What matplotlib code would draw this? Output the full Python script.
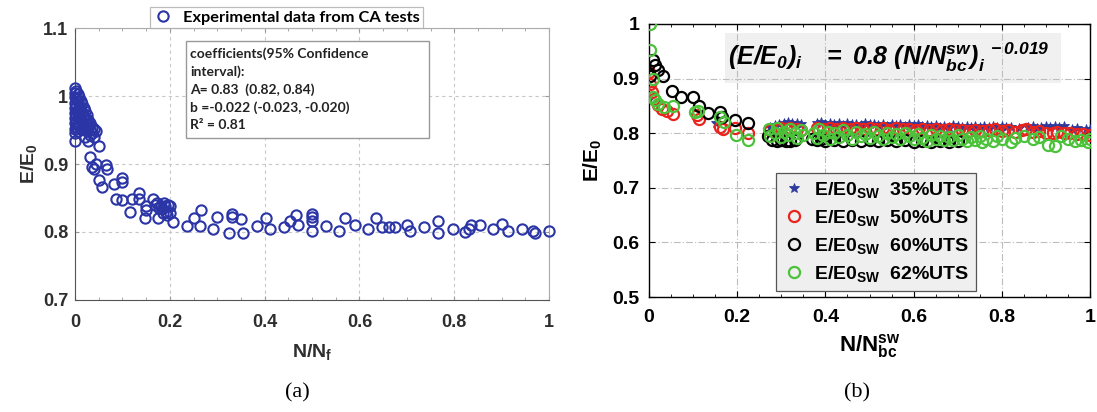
import matplotlib
matplotlib.use("Agg")
import matplotlib.pyplot as plt
from matplotlib.patches import Rectangle

plt.rcParams.update({
    'font.family': 'Liberation Sans',
    'mathtext.fontset': 'custom',
    'mathtext.rm': 'Liberation Sans',
    'mathtext.it': 'Liberation Sans:italic',
    'mathtext.bf': 'Liberation Sans:bold',
    'mathtext.bfit': 'Liberation Sans:italic:bold',
})

# ---- panel (a): CA tests ----
ca_x = [0.0, 0.0, 0.0, 0.0, 0.0, 0.0, 0.0, 0.0, 0.0, 0.0, 0.0,
        0.003, 0.003, 0.003, 0.003, 0.003, 0.003,
        0.006, 0.006, 0.006, 0.006, 0.006, 0.006,
        0.009, 0.009, 0.009, 0.009,
        0.012, 0.012, 0.012, 0.012,
        0.015, 0.015, 0.015,
        0.018, 0.018, 0.018,
        0.021, 0.021, 0.021, 0.021,
        0.025, 0.025, 0.025,
        0.028, 0.028, 0.028,
        0.032, 0.032, 0.032,
        0.036, 0.036, 0.04, 0.04, 0.045,
        0.051, 0.032, 0.036, 0.04, 0.045, 0.051, 0.058, 0.066, 0.068, 0.082,
        0.086, 0.1, 0.1, 0.1, 0.117, 0.12, 0.134, 0.136, 0.148, 0.15,
        0.15, 0.165, 0.169, 0.176, 0.172, 0.178, 0.181, 0.184, 0.187, 0.19,
        0.192, 0.194, 0.196, 0.2, 0.2, 0.185, 0.206,
        0.236, 0.25, 0.266, 0.264, 0.292, 0.30, 0.325, 0.332, 0.332, 0.351,
        0.354, 0.383, 0.402, 0.412, 0.44, 0.453, 0.467, 0.471, 0.499, 0.499,
        0.499, 0.499, 0.53, 0.558, 0.569, 0.59, 0.618, 0.634, 0.647, 0.663,
        0.675, 0.70, 0.706, 0.737, 0.766, 0.766, 0.797, 0.822, 0.832, 0.835,
        0.854, 0.882, 0.90, 0.913, 0.944, 0.967, 0.97, 1.0]
ca_y = [1.012, 1.005, 0.998, 0.99, 0.982, 0.975, 0.967, 0.96, 0.952, 0.945, 0.934,
        1.008, 0.995, 0.985, 0.972, 0.962, 0.955,
        1.003, 0.992, 0.978, 0.968, 0.958, 0.948,
        0.998, 0.985, 0.972, 0.96,
        0.992, 0.98, 0.965, 0.952,
        0.988, 0.975, 0.962,
        0.982, 0.97, 0.958,
        0.978, 0.965, 0.95, 0.94,
        0.972, 0.96, 0.948,
        0.965, 0.955, 0.934,
        0.96, 0.95, 0.942,
        0.955, 0.945, 0.952, 0.94, 0.948,
        0.927, 0.911, 0.895, 0.893, 0.90, 0.877, 0.866, 0.899, 0.893, 0.87,
        0.848, 0.88, 0.873, 0.847, 0.83, 0.848, 0.848, 0.857, 0.82, 0.838,
        0.832, 0.848, 0.84, 0.82, 0.843, 0.836, 0.838, 0.834, 0.843, 0.838,
        0.83, 0.825, 0.84, 0.838, 0.828, 0.828, 0.814,
        0.809, 0.82, 0.833, 0.809, 0.804, 0.822, 0.798, 0.826, 0.822, 0.819,
        0.798, 0.809, 0.82, 0.805, 0.807, 0.816, 0.825, 0.811, 0.827, 0.822,
        0.816, 0.801, 0.809, 0.801, 0.82, 0.811, 0.804, 0.82, 0.807, 0.807,
        0.807, 0.811, 0.801, 0.807, 0.816, 0.799, 0.805, 0.80, 0.805, 0.811,
        0.81, 0.804, 0.812, 0.801, 0.804, 0.802, 0.798, 0.801]

# ---- panel (b): step-wise tests ----
uts35_x = [0.0, 0.152,
           0.275, 0.285, 0.295, 0.305, 0.315, 0.325, 0.335, 0.345, 0.38, 0.39,
           0.40, 0.41, 0.42, 0.43, 0.44, 0.45, 0.46, 0.47, 0.48, 0.49,
           0.50, 0.51, 0.52, 0.53, 0.54, 0.55, 0.56, 0.57, 0.58, 0.59,
           0.60, 0.61, 0.62, 0.63, 0.64, 0.65, 0.66, 0.67, 0.68, 0.69,
           0.70, 0.71, 0.72, 0.73, 0.74, 0.75, 0.76, 0.77, 0.78, 0.79,
           0.80, 0.81, 0.82, 0.84, 0.86, 0.87, 0.88, 0.89, 0.90, 0.91,
           0.92, 0.93, 0.94, 0.96, 0.97, 0.99, 1.0]
uts35_y = [0.863, 0.818,
           0.812, 0.815, 0.817, 0.818, 0.821, 0.819, 0.818, 0.816, 0.818, 0.82,
           0.817, 0.819, 0.816, 0.818, 0.815, 0.818, 0.816, 0.817, 0.815, 0.818,
           0.816, 0.817, 0.815, 0.817, 0.814, 0.817, 0.815, 0.816, 0.814, 0.817,
           0.815, 0.816, 0.813, 0.815, 0.813, 0.815, 0.812, 0.814, 0.812, 0.815,
           0.813, 0.811, 0.814, 0.812, 0.814, 0.812, 0.814, 0.811, 0.813, 0.811,
           0.813, 0.811, 0.812, 0.809, 0.811, 0.813, 0.81, 0.812, 0.814, 0.812,
           0.813, 0.811, 0.813, 0.808, 0.81, 0.807, 0.808]

uts50_x = [0.0, 0.003, 0.006, 0.012, 0.02, 0.03, 0.04, 0.055, 0.108, 0.114,
           0.162, 0.168, 0.196, 0.225,
           0.275, 0.29, 0.30, 0.31, 0.32, 0.335, 0.345, 0.38, 0.395, 0.41,
           0.425, 0.44, 0.455, 0.47, 0.485, 0.50, 0.515, 0.53, 0.545, 0.56,
           0.575, 0.59, 0.605, 0.62, 0.635, 0.65, 0.665, 0.68, 0.695, 0.71,
           0.725, 0.74, 0.755, 0.77, 0.785, 0.80, 0.815, 0.83, 0.845, 0.855,
           0.87, 0.885, 0.90, 0.915, 0.925, 0.94, 0.955, 0.97, 0.985, 1.0]
uts50_y = [0.912, 0.89, 0.876, 0.862, 0.852, 0.845, 0.84, 0.835, 0.834, 0.826,
           0.811, 0.807, 0.81, 0.801,
           0.806, 0.808, 0.81, 0.808, 0.81, 0.808, 0.806, 0.81, 0.808, 0.81,
           0.807, 0.81, 0.808, 0.81, 0.807, 0.809, 0.807, 0.809, 0.806, 0.809,
           0.807, 0.808, 0.806, 0.808, 0.806, 0.807, 0.805, 0.807, 0.805, 0.806,
           0.804, 0.806, 0.804, 0.806, 0.807, 0.804, 0.806, 0.803, 0.805, 0.807,
           0.802, 0.804, 0.801, 0.80, 0.802, 0.801, 0.80, 0.799, 0.798, 0.797]

uts60_x = [0.003, 0.008, 0.014, 0.021, 0.031, 0.052, 0.072, 0.1, 0.114, 0.134,
           0.161, 0.166, 0.195, 0.224,
           0.27, 0.28, 0.29, 0.30, 0.31, 0.32, 0.33, 0.37, 0.38, 0.39,
           0.40, 0.42, 0.44, 0.46, 0.48, 0.50, 0.52, 0.54, 0.56, 0.58,
           0.60, 0.62, 0.64, 0.66, 0.68, 0.70]
uts60_y = [0.905, 0.934, 0.925, 0.916, 0.905, 0.878, 0.867, 0.867, 0.849, 0.837,
           0.839, 0.83, 0.825, 0.818,
           0.795, 0.788, 0.785, 0.787, 0.785, 0.786, 0.788, 0.79, 0.787, 0.789,
           0.786, 0.788, 0.786, 0.788, 0.786, 0.787, 0.785, 0.787, 0.785, 0.787,
           0.784, 0.786, 0.784, 0.785, 0.784, 0.785]

uts62_x = [0.002, 0.003, 0.008, 0.01, 0.014, 0.021, 0.034, 0.054, 0.104, 0.112,
           0.161, 0.169, 0.197, 0.225,
           0.272, 0.275, 0.285, 0.29, 0.30, 0.305, 0.315, 0.32, 0.33, 0.335,
           0.345, 0.35,
           0.375, 0.38, 0.385, 0.395, 0.405, 0.41, 0.42, 0.43, 0.44, 0.45,
           0.46, 0.47, 0.48, 0.49, 0.50, 0.51, 0.52, 0.53, 0.54, 0.55,
           0.56, 0.57, 0.58, 0.59, 0.60, 0.61, 0.62, 0.63, 0.64, 0.65,
           0.66, 0.67, 0.68, 0.69, 0.70, 0.71, 0.72, 0.73, 0.74, 0.75,
           0.755, 0.765, 0.78, 0.79, 0.80, 0.82, 0.83, 0.85, 0.87, 0.885,
           0.905, 0.92, 0.935, 0.95, 0.965, 0.98, 0.995, 1.0]
uts62_y = [1.0, 0.952, 0.9, 0.867, 0.86, 0.853, 0.848, 0.85, 0.838, 0.84,
           0.83, 0.821, 0.797, 0.788,
           0.808, 0.795, 0.80, 0.81, 0.793, 0.803, 0.796, 0.808, 0.80, 0.792,
           0.806, 0.797,
           0.80, 0.792, 0.807, 0.797, 0.803, 0.79, 0.80, 0.793, 0.805, 0.796,
           0.79, 0.802, 0.795, 0.799, 0.791, 0.803, 0.795, 0.79, 0.80, 0.793,
           0.798, 0.789, 0.801, 0.794, 0.79, 0.798, 0.792, 0.786, 0.797, 0.79,
           0.795, 0.787, 0.793, 0.788, 0.796, 0.79, 0.785, 0.793, 0.787, 0.795,
           0.783, 0.79, 0.786, 0.795, 0.789, 0.783, 0.792, 0.795, 0.79, 0.793,
           0.778, 0.777, 0.795, 0.79, 0.785, 0.787, 0.784, 0.79]

x_ticks = [0, 0.2, 0.4, 0.6, 0.8, 1.0]
x_labels = ['0', '0.2', '0.4', '0.6', '0.8', '1']
a_yticks = [0.7, 0.8, 0.9, 1.0, 1.1]
a_ylabels = ['0.7', '0.8', '0.9', '1', '1.1']
b_yticks = [0.5, 0.6, 0.7, 0.8, 0.9, 1.0]
b_ylabels = ['0.5', '0.6', '0.7', '0.8', '0.9', '1']

W, H = 1097, 412
fig = plt.figure(figsize=(W / 100, H / 100), dpi=100)

# ================= (a) =================
ax = fig.add_axes([75 / W, 1 - 300 / H, 474 / W, 272 / H])
ax.plot(ca_x, ca_y, 'o', mfc='none', mec='#2b35a6', ms=7.4, mew=1.5,
        label='Experimental data from CA tests', clip_on=False, zorder=3)
ax.set_xlim(0, 1)
ax.set_ylim(0.7, 1.1)
ax.set_xticks(x_ticks)
ax.set_xticklabels(x_labels)
ax.set_xticks([0.05 * i for i in range(21)], minor=True)
ax.set_yticks(a_yticks)
ax.set_yticklabels(a_ylabels)
ax.set_axisbelow(True)
ax.grid(True, color='#c8c8c8', linestyle=(0, (3, 3)), linewidth=0.8)
ax.tick_params(which='both', direction='in', top=True, right=True,
               colors='#9a9a9a', labelcolor='#2e2e2e')
ax.tick_params(which='major', length=3, labelsize=13, pad=10)
ax.tick_params(axis='y', which='major', pad=5)
ax.tick_params(which='minor', length=2)
for lab in ax.get_xticklabels() + ax.get_yticklabels():
    lab.set_fontweight('bold')
ax.spines['left'].set_color('#555555')
ax.spines['bottom'].set_color('#555555')
ax.spines['top'].set_color('#aaaaaa')
ax.spines['right'].set_color('#aaaaaa')
ax.set_xlabel(r'$\mathbf{N/N_f}$', fontsize=14, color='#2e2e2e', labelpad=8)
ax.set_ylabel(r'$\mathbf{E/E_0}$', fontsize=14, color='#2e2e2e', labelpad=3)

leg = ax.legend(loc='lower left', bbox_to_anchor=(0.158, 1.0), borderaxespad=0,
                frameon=True, fancybox=False, edgecolor='#aaaaaa',
                prop={'family': 'Lato', 'weight': 'bold', 'size': 11.8},
                handletextpad=0.6, borderpad=0.2, handlelength=1.2)
leg.get_frame().set_linewidth(0.9)

ax.add_patch(Rectangle((0.234, 0.596), 0.513, 0.356, transform=ax.transAxes,
                       facecolor='white', edgecolor='#999999', lw=1.0, zorder=4))
ax.text(0.243, 0.928,
        'coefficients(95% Confidence\ninterval):\nA= 0.83  (0.82, 0.84)\n'
        'b =-0.022 (-0.023, -0.020)\nR\u00b2 = 0.81',
        transform=ax.transAxes, va='top', ha='left', fontsize=10,
        family='Lato', weight='bold', color='#222222', linespacing=1.5, zorder=5)

fig.text(297 / W, 1 - 393 / H, '(a)', ha='center', va='center',
         family='Liberation Serif', fontsize=16)

# ================= (b) =================
bx = fig.add_axes([649 / W, 1 - 297 / H, 441 / W, 273 / H])
bx.plot(uts35_x, uts35_y, '*', color='#2e3a9c', ms=7, mew=0.6,
        label=r'$\mathbf{E/E0_{SW}}$  $\mathbf{35\%UTS}$', zorder=3)
bx.plot(uts50_x, uts50_y, 'o', mfc='none', mec='#e8241c', ms=8, mew=1.6,
        label=r'$\mathbf{E/E0_{SW}}$  $\mathbf{50\%UTS}$', zorder=3)
bx.plot(uts60_x, uts60_y, 'o', mfc='none', mec='black', ms=8, mew=1.6,
        label=r'$\mathbf{E/E0_{SW}}$  $\mathbf{60\%UTS}$', zorder=3)
bx.plot(uts62_x, uts62_y, 'o', mfc='none', mec='#4cc13a', ms=8, mew=1.6,
        label=r'$\mathbf{E/E0_{SW}}$  $\mathbf{62\%UTS}$', zorder=3)
bx.set_xlim(0, 1)
bx.set_ylim(0.5, 1.0)
bx.set_xticks(x_ticks)
bx.set_xticklabels(x_labels)
bx.set_xticks([0.05 * i for i in range(21)], minor=True)
bx.set_yticks(b_yticks)
bx.set_yticklabels(b_ylabels)
bx.set_axisbelow(True)
bx.grid(True, color='#bdbdbd', linestyle=(0, (6, 2, 1, 2)), linewidth=0.8)
bx.tick_params(which='both', direction='in', top=True, right=True, colors='black')
bx.tick_params(which='major', length=4, labelsize=14, pad=9)
bx.tick_params(axis='y', which='major', pad=7)
bx.tick_params(which='minor', length=2.5)
for lab in bx.get_xticklabels() + bx.get_yticklabels():
    lab.set_fontweight('bold')
for s in bx.spines.values():
    s.set_linewidth(1.0)
bx.set_xlabel(r'$\mathbf{N/N_{bc}^{sw}}$', fontsize=16, labelpad=4)
bx.set_ylabel(r'$\mathbf{E/E_0}$', fontsize=15, labelpad=6)

bx.add_patch(Rectangle((0.172, 0.784), 0.762, 0.183, transform=bx.transAxes,
                       facecolor='#f0f0f0', edgecolor='none', zorder=0.4))
bx.text(0.18, 0.85,
        r'$\mathbfit{(E/E_0)_i\ \ \ =\ 0.8\ (N/N_{bc}^{sw})_i^{\ \ -0.019}}$',
        transform=bx.transAxes, ha='left', va='baseline', fontsize=18, zorder=3)

leg2 = bx.legend(loc='lower left', bbox_to_anchor=(0.288, 0.022), borderaxespad=0,
                 frameon=True, fancybox=False, facecolor='#efefef',
                 edgecolor='#555555', framealpha=1, fontsize=14,
                 handletextpad=0.5, labelspacing=0.42, borderpad=0.35,
                 handlelength=1.1)
leg2.get_frame().set_linewidth(0.9)

fig.text(857 / W, 1 - 393 / H, '(b)', ha='center', va='center',
         family='Liberation Serif', fontsize=16)

fig.savefig('out.png', dpi=100)
